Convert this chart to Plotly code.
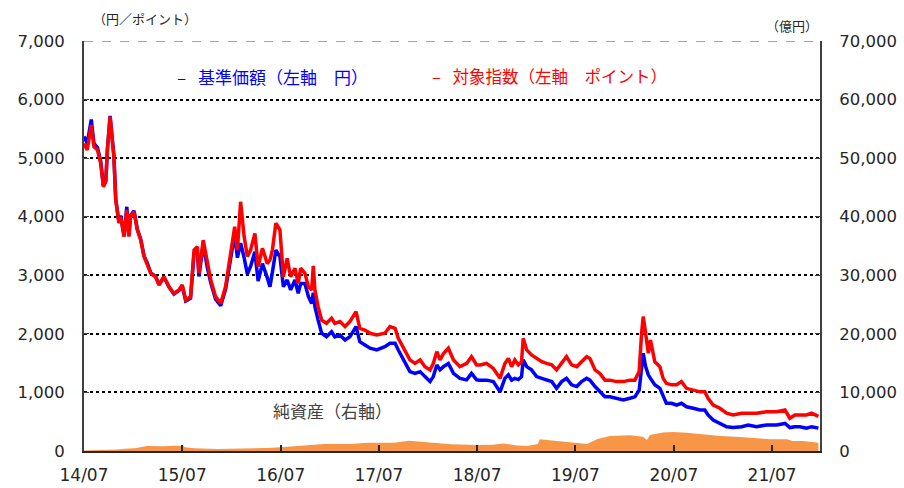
import plotly.graph_objects as go

# ---- data ----
line_dates = [
    "2014-07-01","2014-07-13","2014-07-28","2014-08-07","2014-08-20","2014-09-01","2014-09-11","2014-09-20","2014-09-26","2014-10-06",
    "2014-10-14","2014-10-20","2014-10-27","2014-11-02","2014-11-08","2014-11-14","2014-11-27","2014-12-07","2014-12-15","2014-12-21",
    "2015-01-03","2015-01-15","2015-01-28","2015-02-09","2015-02-21","2015-03-06","2015-03-24","2015-04-06","2015-04-24","2015-05-13",
    "2015-05-31","2015-06-19","2015-07-01","2015-07-14","2015-08-01","2015-08-14","2015-08-26","2015-09-01","2015-09-17","2015-10-02",
    "2015-10-15","2015-11-02","2015-11-21","2015-12-09","2015-12-28",
    "2016-01-12","2016-01-22","2016-02-03","2016-02-16","2016-02-28","2016-03-11","2016-03-27","2016-04-08","2016-04-24","2016-05-12",
    "2016-05-22","2016-05-31","2016-06-13","2016-06-28","2016-07-11","2016-07-25","2016-08-07","2016-08-23","2016-09-04","2016-09-13",
    "2016-09-29","2016-10-12","2016-10-24","2016-10-30","2016-11-05","2016-11-17","2016-11-30","2016-12-18",
    "2017-01-06","2017-01-18","2017-02-06","2017-02-25","2017-03-15","2017-04-07","2017-04-21","2017-05-10","2017-05-29","2017-06-23",
    "2017-07-23","2017-08-11","2017-08-30","2017-09-11","2017-10-06","2017-10-24","2017-11-12","2017-12-01","2017-12-19",
    "2018-01-07","2018-01-19","2018-02-01","2018-02-13","2018-02-26","2018-03-16","2018-04-04","2018-04-28","2018-05-23","2018-06-10",
    "2018-06-29","2018-07-11","2018-08-05","2018-08-30","2018-09-24","2018-10-12","2018-10-25","2018-11-06","2018-11-18","2018-12-01",
    "2018-12-13","2018-12-19",
    "2019-01-01","2019-01-19","2019-02-07","2019-02-26","2019-03-16","2019-04-04","2019-04-22","2019-05-11","2019-05-29","2019-06-17",
    "2019-07-06","2019-07-24","2019-08-12","2019-08-24","2019-09-12","2019-09-30","2019-10-19","2019-11-06","2019-12-01","2019-12-26",
    "2020-01-20","2020-02-07","2020-02-23","2020-03-03","2020-03-09","2020-03-18","2020-03-28","2020-04-05","2020-04-21","2020-05-10",
    "2020-05-22","2020-06-03","2020-06-22","2020-07-11","2020-07-29","2020-08-17","2020-09-11","2020-10-06","2020-10-24","2020-11-05",
    "2020-11-24","2020-12-19",
    "2021-01-13","2021-02-06","2021-03-10","2021-04-03","2021-05-04","2021-06-10","2021-07-18","2021-08-18","2021-09-05","2021-09-24",
    "2021-10-12","2021-11-06","2021-11-25","2021-12-20",
]

index_points = [  # 対象指数 (ポイント)
    5250,5140,5565,5195,5140,4910,4510,4600,5140,5710,
    5310,5025,4285,4060,3890,4000,3660,4115,3660,4000,
    4085,3775,3600,3320,3200,3035,2975,2835,2975,2805,
    2690,2750,2835,2580,2635,3430,3490,3035,3600,3200,
    2920,2635,2520,2805,3375,
    3830,3430,4255,3660,3320,3430,3715,3150,3460,3200,
    3260,3430,3890,3775,2975,3290,2975,3120,2860,3120,
    3035,2805,2750,3160,2750,2465,2235,2180,
    2265,2180,2210,2125,2210,2380,2095,2065,2010,1980,
    2010,2125,2095,1925,1725,1555,1495,1555,1440,
    1385,1495,1695,1555,1665,1755,1555,1440,1495,1610,
    1470,1470,1495,1410,1240,1495,1580,1440,1555,1470,
    1525,1925,
    1725,1640,1580,1525,1495,1470,1385,1495,1610,1470,
    1440,1525,1610,1580,1385,1325,1210,1210,1185,1185,
    1210,1210,1355,2010,2295,2010,1670,1895,1525,1440,
    1240,1155,1130,1130,1185,1070,1040,1010,1010,900,
    785,730,
    645,615,645,645,645,670,670,700,560,615,
    615,615,645,590,
]

nav_yen = [  # 基準価額 (円)
    5370,5250,5660,5250,5180,4950,4530,4620,5150,5720,
    5330,5050,4300,4080,3900,4020,3670,4170,3680,4020,
    4100,3790,3610,3330,3210,3040,2980,2840,2970,2800,
    2680,2740,2820,2560,2610,3380,3440,2980,3530,3140,
    2870,2590,2480,2760,3290,
    3700,3300,3550,3300,3020,3150,3400,2900,3200,2960,
    2805,3050,3430,3320,2805,2920,2750,2920,2690,2860,
    2860,2635,2520,2700,2465,2235,2010,1950,
    2035,1950,1980,1895,1950,2125,1865,1810,1755,1725,
    1780,1840,1840,1725,1495,1355,1325,1355,1270,
    1185,1270,1470,1385,1440,1495,1325,1240,1215,1325,
    1215,1210,1210,1185,1010,1240,1300,1210,1240,1220,
    1270,1555,
    1440,1385,1270,1240,1210,1185,1070,1185,1240,1130,
    1100,1185,1240,1210,1100,1010,925,925,900,870,
    900,925,1040,1440,1670,1440,1300,1240,1130,1070,
    925,815,815,785,815,755,730,700,700,615,
    530,470,
    415,400,415,445,415,445,445,470,400,415,
    415,390,415,390,
]

asset_dates = [
    "2014-07-01","2014-08-29","2014-11-01","2014-11-30","2015-01-07","2015-02-20","2015-04-24","2015-05-31","2015-07-04","2015-07-11",
    "2015-08-14","2015-11-07","2016-02-16","2016-05-11","2016-07-02","2016-08-08","2016-10-21","2016-12-09","2017-03-19","2017-05-17",
    "2017-07-09","2017-08-26","2017-10-21","2017-12-04","2018-02-02","2018-03-26","2018-07-04","2018-08-29","2018-10-05","2018-11-26",
    "2019-01-02","2019-02-12","2019-02-19","2019-05-05","2019-07-07","2019-08-13","2019-09-19","2019-11-06","2020-01-20","2020-03-08",
    "2020-03-23","2020-04-03","2020-05-21","2020-06-27","2020-08-18","2020-10-17","2020-12-19","2021-03-03","2021-05-05","2021-06-23",
    "2021-08-25","2021-09-16","2021-10-24","2021-12-20",
]
net_assets = [  # 純資産 (億円)
    100,120,250,400,460,850,800,900,850,630,
    460,340,400,520,630,740,970,1200,1200,1420,
    1420,1420,1760,1590,1310,1150,1020,1050,1300,950,
    850,1200,2000,1650,1300,1200,2000,2560,2680,2450,
    1880,2740,3140,3250,3100,2850,2560,2400,2150,2000,
    2000,1700,1700,1400,
]

left_ticks = [0, 1000, 2000, 3000, 4000, 5000, 6000, 7000]
right_ticks = [0, 10000, 20000, 30000, 40000, 50000, 60000, 70000]

NUM_FONT = "DejaVu Sans"
JP_FONT = "Noto Sans CJK JP"

fig = go.Figure()

fig.add_trace(go.Scatter(
    x=asset_dates, y=net_assets, yaxis="y", mode="lines",
    line=dict(width=0, color="#F79646"), fill="tozeroy", fillcolor="#F79646",
    showlegend=False, hoverinfo="skip"))

fig.add_trace(go.Scatter(
    x=line_dates, y=nav_yen, yaxis="y2", mode="lines",
    line=dict(color="#0000FF", width=3.5), showlegend=False))

fig.add_trace(go.Scatter(
    x=line_dates, y=index_points, yaxis="y2", mode="lines",
    line=dict(color="#FF0000", width=3.5), showlegend=False))

fig.update_layout(
    width=904, height=488,
    margin=dict(l=84, r=84, t=41, b=37, autoexpand=False),
    paper_bgcolor="white", plot_bgcolor="white",
    font=dict(family=NUM_FONT, size=17, color="#262626"),
    xaxis=dict(
        type="date", range=["2014-07-01", "2021-12-26"], automargin=False,
        tick0="2014-07-01", dtick="M12", tickformat="%y/%m",
        ticks="inside", ticklen=6, tickwidth=1.5, tickcolor="#262626",
        showline=True, linecolor="#262626", linewidth=2,
        showgrid=False, zeroline=False, ticklabelstandoff=8,
        tickfont=dict(family=NUM_FONT, size=17, color="#262626"),
    ),
    yaxis=dict(
        side="right", range=[0, 70000], tickvals=right_ticks, tickformat=",",
        automargin=False,
        ticks="inside", ticklen=5, tickcolor="#404040",
        showline=True, linecolor="#404040", linewidth=2,
        showgrid=False, zeroline=False, ticklabelstandoff=14,
        tickfont=dict(family=NUM_FONT, size=16.5, color="#262626"),
    ),
    yaxis2=dict(
        overlaying="y", side="left", range=[0, 7000], tickvals=left_ticks, tickformat=",",
        automargin=False,
        ticks="inside", ticklen=5, tickcolor="#404040",
        showline=True, linecolor="#404040", linewidth=2,
        showgrid=True, gridcolor="black", gridwidth=2, griddash="dot",
        zeroline=False, ticklabelstandoff=14,
        tickfont=dict(family=NUM_FONT, size=16.5, color="#262626"),
    ),
)

# top frame line (grey dashed)
fig.add_shape(type="line", xref="paper", yref="y2", x0=0, x1=1, y0=7000, y1=7000,
              line=dict(color="white", width=3), layer="above")
fig.add_shape(type="line", xref="paper", yref="y2", x0=0, x1=1, y0=7000, y1=7000,
              line=dict(color="#A6A6A6", width=2, dash="dash"), layer="above")

annos = [
    dict(text="–\u2002\u2009基準価額（左軸　円）", x=0.1236, y=0.914, xanchor="left", yanchor="middle",
         font=dict(family=JP_FONT, size=17, color="#0000FF")),
    dict(text="–\u2002\u2009対象指数（左軸　ポイント）", x=0.470, y=0.914, xanchor="left", yanchor="middle",
         font=dict(family=JP_FONT, size=16.5, color="#FF0000")),
    dict(text="純資産（右軸）", x=0.338, y=0.098, xanchor="center", yanchor="middle",
         font=dict(family=JP_FONT, size=17, color="#404040")),
    dict(text="（円／ポイント）", x=0.010, y=1.054, xanchor="left", yanchor="middle",
         font=dict(family=JP_FONT, size=13, color="#262626")),
    dict(text="（億円）", x=1.0, y=1.039, xanchor="right", yanchor="middle",
         font=dict(family=JP_FONT, size=13, color="#262626")),
]
for a in annos:
    fig.add_annotation(xref="paper", yref="paper", showarrow=False, **a)

fig.write_html("out.html", config={"displayModeBar": False},
               post_script="document.body.style.margin='0';document.body.style.overflow='hidden';")
